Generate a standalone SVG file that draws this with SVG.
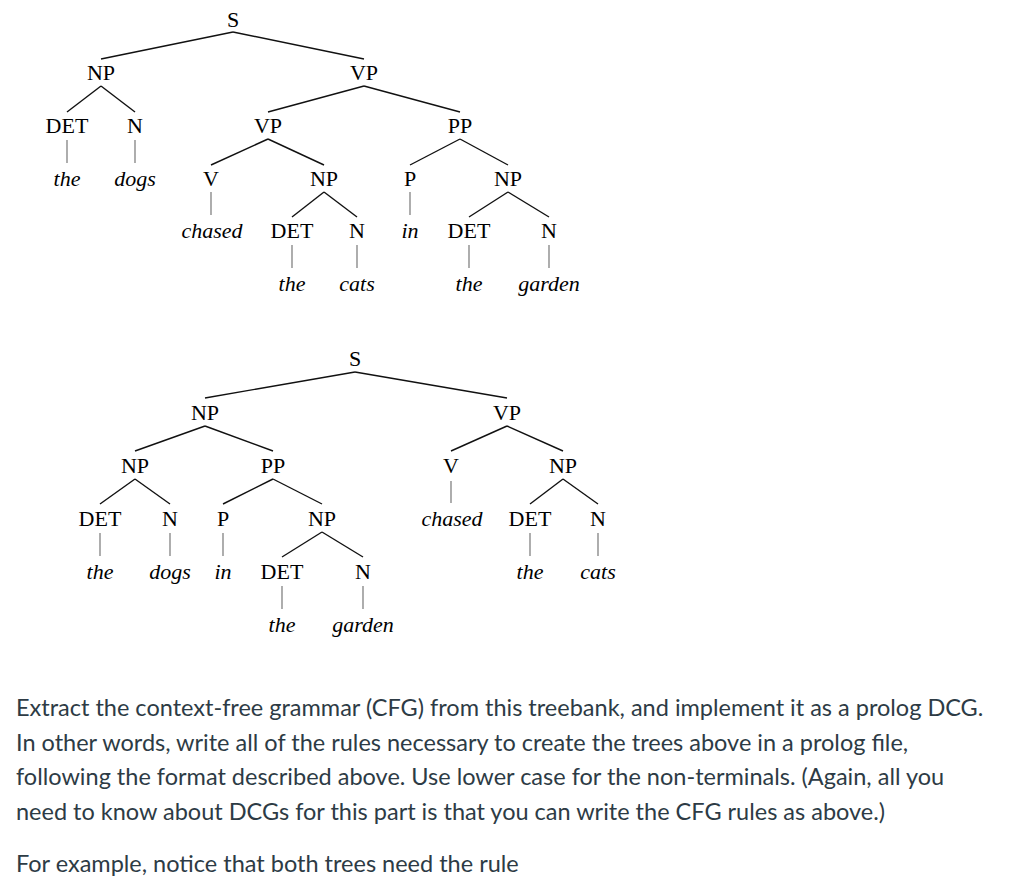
<svg xmlns="http://www.w3.org/2000/svg" width="1024" height="880" viewBox="0 0 1024 880">
<style>
.n{font-family:"Liberation Serif","Times New Roman",serif;font-size:22px;fill:#000;text-anchor:middle}
.w{font-family:"Liberation Serif","Times New Roman",serif;font-size:22px;font-style:italic;fill:#000;text-anchor:middle}
.e{stroke:#111;stroke-width:1.4;fill:none}
.v{stroke:#777;stroke-width:1.2;fill:none}
.p{font-family:Lato,"Open Sans",sans-serif;font-size:23.5px;fill:#2d3b45}
</style>
<rect width="1024" height="880" fill="#fff"/>
<g id="connectors">
<!-- top tree -->
<line class="e" x1="233" y1="32" x2="101" y2="59"/>
<line class="e" x1="233" y1="32" x2="364" y2="59"/>
<line class="e" x1="101" y1="86" x2="67" y2="112"/>
<line class="e" x1="101" y1="86" x2="135" y2="112"/>
<line class="e" x1="364" y1="86" x2="268" y2="112"/>
<line class="e" x1="364" y1="86" x2="460" y2="112"/>
<line class="v" x1="67" y1="140" x2="67" y2="163"/>
<line class="v" x1="135" y1="140" x2="135" y2="163"/>
<line class="e" x1="268" y1="139" x2="211" y2="165"/>
<line class="e" x1="268" y1="139" x2="324" y2="165"/>
<line class="e" x1="460" y1="139" x2="410" y2="165"/>
<line class="e" x1="460" y1="139" x2="508" y2="165"/>
<line class="v" x1="211" y1="192" x2="211" y2="215"/>
<line class="e" x1="324" y1="192" x2="292" y2="217"/>
<line class="e" x1="324" y1="192" x2="357" y2="217"/>
<line class="v" x1="410" y1="192" x2="410" y2="215"/>
<line class="e" x1="508" y1="192" x2="469" y2="217"/>
<line class="e" x1="508" y1="192" x2="549" y2="217"/>
<line class="v" x1="292" y1="245" x2="292" y2="268"/>
<line class="v" x1="357" y1="245" x2="357" y2="268"/>
<line class="v" x1="469" y1="245" x2="469" y2="268"/>
<line class="v" x1="549" y1="245" x2="549" y2="268"/>
<!-- bottom tree -->
<line class="e" x1="355" y1="372" x2="205" y2="398"/>
<line class="e" x1="355" y1="372" x2="507" y2="398"/>
<line class="e" x1="205" y1="426" x2="135" y2="451"/>
<line class="e" x1="205" y1="426" x2="273" y2="451"/>
<line class="e" x1="507" y1="426" x2="451" y2="451"/>
<line class="e" x1="507" y1="426" x2="563" y2="451"/>
<line class="e" x1="135" y1="479" x2="100" y2="504"/>
<line class="e" x1="135" y1="479" x2="170" y2="504"/>
<line class="e" x1="273" y1="479" x2="223" y2="504"/>
<line class="e" x1="273" y1="479" x2="322" y2="504"/>
<line class="v" x1="451" y1="481" x2="451" y2="503"/>
<line class="e" x1="563" y1="479" x2="530" y2="504"/>
<line class="e" x1="563" y1="479" x2="598" y2="504"/>
<line class="v" x1="100" y1="533" x2="100" y2="556"/>
<line class="v" x1="170" y1="533" x2="170" y2="556"/>
<line class="v" x1="223" y1="533" x2="223" y2="556"/>
<line class="e" x1="322" y1="532" x2="282" y2="557"/>
<line class="e" x1="322" y1="532" x2="363" y2="557"/>
<line class="v" x1="530" y1="533" x2="530" y2="556"/>
<line class="v" x1="598" y1="533" x2="598" y2="556"/>
<line class="v" x1="282" y1="586" x2="282" y2="609"/>
<line class="v" x1="363" y1="586" x2="363" y2="609"/>
</g>
<g id="tree1">
<g id="t1-S"><text class="n" x="233" y="27">S</text></g>
<g id="t1-NP"><text class="n" x="101" y="80">NP</text></g>
<g id="t1-VP"><text class="n" x="364" y="80">VP</text></g>
<g id="t1-DET1"><text class="n" x="67" y="133">DET</text></g>
<g id="t1-N1"><text class="n" x="135" y="133">N</text></g>
<g id="t1-VP2"><text class="n" x="268" y="133">VP</text></g>
<g id="t1-PP"><text class="n" x="460" y="133">PP</text></g>
<g id="t1-the1"><text class="w" x="67" y="186">the</text></g>
<g id="t1-dogs"><text class="w" x="135" y="186">dogs</text></g>
<g id="t1-V"><text class="n" x="211" y="186">V</text></g>
<g id="t1-NP2"><text class="n" x="324" y="186">NP</text></g>
<g id="t1-P"><text class="n" x="410" y="186">P</text></g>
<g id="t1-NP3"><text class="n" x="508" y="186">NP</text></g>
<g id="t1-chased"><text class="w" x="212" y="238">chased</text></g>
<g id="t1-DET2"><text class="n" x="292" y="238">DET</text></g>
<g id="t1-N2"><text class="n" x="357" y="238">N</text></g>
<g id="t1-in"><text class="w" x="410" y="238">in</text></g>
<g id="t1-DET3"><text class="n" x="469" y="238">DET</text></g>
<g id="t1-N3"><text class="n" x="549" y="238">N</text></g>
<g id="t1-the2"><text class="w" x="292" y="291">the</text></g>
<g id="t1-cats"><text class="w" x="357" y="291">cats</text></g>
<g id="t1-the3"><text class="w" x="469" y="291">the</text></g>
<g id="t1-garden"><text class="w" x="549" y="291">garden</text></g>
</g>
<g id="tree2">
<g id="t2-S"><text class="n" x="355" y="366">S</text></g>
<g id="t2-NP"><text class="n" x="205" y="420">NP</text></g>
<g id="t2-VP"><text class="n" x="507" y="420">VP</text></g>
<g id="t2-NP2"><text class="n" x="135" y="473">NP</text></g>
<g id="t2-PP"><text class="n" x="273" y="473">PP</text></g>
<g id="t2-V"><text class="n" x="451" y="473">V</text></g>
<g id="t2-NP3"><text class="n" x="563" y="473">NP</text></g>
<g id="t2-DET1"><text class="n" x="100" y="526">DET</text></g>
<g id="t2-N1"><text class="n" x="170" y="526">N</text></g>
<g id="t2-P"><text class="n" x="223" y="526">P</text></g>
<g id="t2-NP4"><text class="n" x="322" y="526">NP</text></g>
<g id="t2-chased"><text class="w" x="452" y="526">chased</text></g>
<g id="t2-DET3"><text class="n" x="530" y="526">DET</text></g>
<g id="t2-N3"><text class="n" x="598" y="526">N</text></g>
<g id="t2-the1"><text class="w" x="100" y="579">the</text></g>
<g id="t2-dogs"><text class="w" x="170" y="579">dogs</text></g>
<g id="t2-in"><text class="w" x="223" y="579">in</text></g>
<g id="t2-DET2"><text class="n" x="282" y="579">DET</text></g>
<g id="t2-N2"><text class="n" x="363" y="579">N</text></g>
<g id="t2-the3"><text class="w" x="530" y="579">the</text></g>
<g id="t2-cats"><text class="w" x="598" y="579">cats</text></g>
<g id="t2-the2"><text class="w" x="282" y="632">the</text></g>
<g id="t2-garden"><text class="w" x="363" y="632">garden</text></g>
</g>
<g id="paragraph">
<text class="p" x="16" y="716">Extract the context-free grammar (CFG) from this treebank, and implement it as a prolog DCG.</text>
<text class="p" x="16" y="750.5">In other words, write all of the rules necessary to create the trees above in a prolog file,</text>
<text class="p" x="16" y="785">following the format described above. Use lower case for the non-terminals. (Again, all you</text>
<text class="p" x="16" y="819.5">need to know about DCGs for this part is that you can write the CFG rules as above.)</text>
<text class="p" x="16" y="872">For example, notice that both trees need the rule</text>
</g>
</svg>
